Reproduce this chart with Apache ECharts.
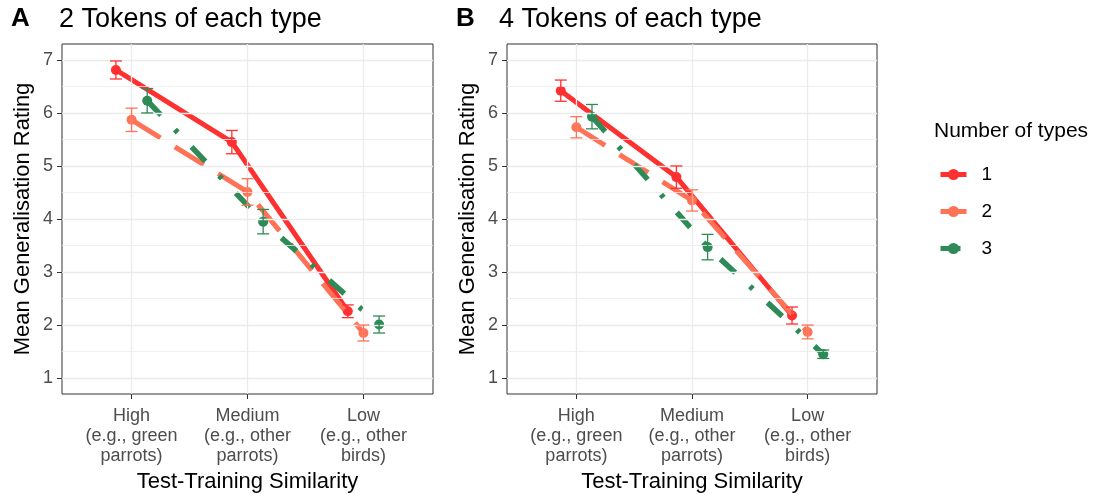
<!DOCTYPE html>
<html>
<head>
<meta charset="utf-8">
<script src="https://cdn.jsdelivr.net/npm/echarts@6/dist/echarts.min.js"></script>
<style>
  html, body { margin: 0; padding: 0; background: #fff; }
  #chart { width: 1096px; height: 494px; }
</style>
</head>
<body>
<div id="chart"></div>
<script>
// Similarity levels on the x axis
const categories = [
  'High\n(e.g., green\nparrots)',
  'Medium\n(e.g., other\nparrots)',
  'Low\n(e.g., other\nbirds)'
];
const typeNames = ['1', '2', '3'];
const yTicks = [1, 2, 3, 4, 5, 6, 7];

// Panel A: 2 tokens of each type — means and standard errors
const meanA1 = [6.81, 5.45, 2.26];
const seA1   = [0.17, 0.22, 0.12];
const meanA2 = [5.87, 4.51, 1.85];
const seA2   = [0.22, 0.25, 0.15];
const meanA3 = [6.23, 3.95, 2.01];
const seA3   = [0.23, 0.23, 0.16];

// Panel B: 4 tokens of each type — means and standard errors
const meanB1 = [6.42, 4.79, 2.18];
const seB1   = [0.20, 0.21, 0.16];
const meanB2 = [5.73, 4.35, 1.87];
const seB2   = [0.20, 0.20, 0.13];
const meanB3 = [5.93, 3.47, 1.45];
const seB3   = [0.23, 0.24, 0.08];

const colors = ['#FF3030', '#FF7256', '#2E8B57'];
const dashes = ['solid', [34, 17], [20, 20, 4, 20]];
const lineWidths = [5, 5, 5.5];
const dodge = [-0.135, 0, 0.135];
const FONT = '"Liberation Sans", Arial, sans-serif';

const panels = [
  { means: [meanA1, meanA2, meanA3], ses: [seA1, seA2, seA3] },
  { means: [meanB1, meanB2, meanB3], ses: [seB1, seB2, seB3] }
];

const grids = [
  { left: 62, top: 44, width: 371, height: 350 },
  { left: 507, top: 44, width: 370, height: 350 }
].map(g => Object.assign(g, {
  show: true, borderColor: '#333333', borderWidth: 1, backgroundColor: '#fff',
  containLabel: false, outerBoundsMode: 'none'
}));

const xAxes = grids.map((g, i) => ({
  type: 'value', gridIndex: i, min: 0.4, max: 3.6,
  name: 'Test-Training Similarity', nameLocation: 'middle', nameGap: 75,
  nameTextStyle: { fontFamily: FONT, fontSize: 22, color: '#000' },
  axisLine: { show: false },
  axisTick: { show: true, customValues: [1, 2, 3], length: 5, lineStyle: { color: '#333' } },
  axisLabel: {
    customValues: [1, 2, 3], margin: 12,
    formatter: v => categories[Math.round(v) - 1],
    fontFamily: FONT, fontSize: 18, lineHeight: 20, color: '#4d4d4d', align: 'center'
  },
  splitLine: { show: false }
}));

const yAxes = grids.map((g, i) => ({
  type: 'value', gridIndex: i, min: 0.7, max: 7.3,
  name: 'Mean Generalisation Rating', nameLocation: 'middle', nameGap: 28, nameRotate: 90,
  nameTextStyle: { fontFamily: FONT, fontSize: 22, color: '#000' },
  axisLine: { show: false },
  axisTick: { show: true, customValues: yTicks, length: 5, lineStyle: { color: '#333' } },
  axisLabel: { customValues: yTicks, margin: 9, fontFamily: FONT, fontSize: 18, color: '#4d4d4d' },
  splitLine: { show: false }
}));

const series = [];

// panel grid lines drawn on each axis scale
grids.forEach((g, i) => {
  const lines = [];
  [1, 2, 3].forEach(x => lines.push({ xAxis: x, lineStyle: { width: 1.3 } }));
  yTicks.forEach(y => lines.push({ yAxis: y, lineStyle: { width: 1.3 } }));
  yTicks.slice(0, -1).forEach(y => lines.push({ yAxis: y + 0.5, lineStyle: { width: 0.8 } }));
  series.push({
    type: 'line', xAxisIndex: i, yAxisIndex: i, data: [], z: 0, silent: true,
    markLine: {
      silent: true, symbol: ['none', 'none'], label: { show: false },
      lineStyle: { color: '#ebebeb', type: 'solid' },
      animation: false, data: lines
    }
  });
});

panels.forEach((p, pi) => {
  p.means.forEach((m, k) => {
    series.push({
      name: typeNames[k], type: 'line', xAxisIndex: pi, yAxisIndex: pi,
      data: m.map((v, c) => [c + 1 + dodge[k], v]),
      symbol: 'circle', symbolSize: 10, showSymbol: true,
      lineStyle: { color: colors[k], width: lineWidths[k], type: dashes[k], cap: 'butt' },
      itemStyle: { color: colors[k] },
      z: 2 + k, animation: false
    });
  });
  p.means.forEach((m, k) => {
    series.push({
      type: 'custom', xAxisIndex: pi, yAxisIndex: pi, z: 6, silent: true,
      data: m.map((v, c) => [c + 1 + dodge[k], v - p.ses[k][c], v + p.ses[k][c]]),
      renderItem: (params, api) => {
        const lo = api.coord([api.value(0), api.value(1)]);
        const hi = api.coord([api.value(0), api.value(2)]);
        const hw = 6;
        const style = { stroke: colors[k], lineWidth: 1.3 };
        return {
          type: 'group',
          children: [
            { type: 'line', shape: { x1: lo[0], y1: lo[1], x2: hi[0], y2: hi[1] }, style },
            { type: 'line', shape: { x1: lo[0] - hw, y1: lo[1], x2: lo[0] + hw, y2: lo[1] }, style },
            { type: 'line', shape: { x1: hi[0] - hw, y1: hi[1], x2: hi[0] + hw, y2: hi[1] }, style }
          ]
        };
      },
      animation: false
    });
  });
});

const titleStyle = (size, weight) => ({ fontFamily: FONT, fontSize: size, fontWeight: weight, color: '#000' });

const chart = echarts.init(document.getElementById('chart'), null, { renderer: 'canvas' });
chart.setOption({
  animation: false,
  title: [
    { text: 'A', left: 11, top: 6, padding: 0, textStyle: titleStyle(26, 'bold') },
    { text: '2 Tokens of each type', left: 59, top: 6, padding: 0, textStyle: titleStyle(27, 'normal') },
    { text: 'B', left: 456, top: 6, padding: 0, textStyle: titleStyle(26, 'bold') },
    { text: '4 Tokens of each type', left: 499, top: 6, padding: 0, textStyle: titleStyle(27, 'normal') },
    { text: 'Number of types', left: 934, top: 121, padding: 0, textStyle: titleStyle(21, 'normal') }
  ],
  legend: {
    data: typeNames, orient: 'vertical', left: 938, top: 165, padding: 0,
    itemWidth: 26, itemHeight: 14, itemGap: 18,
    lineStyle: { width: 5 },
    textStyle: { fontFamily: FONT, fontSize: 19, color: '#000', padding: [0, 0, 0, 10] }
  },
  grid: grids,
  xAxis: xAxes,
  yAxis: yAxes,
  series: series
});
</script>
</body>
</html>
